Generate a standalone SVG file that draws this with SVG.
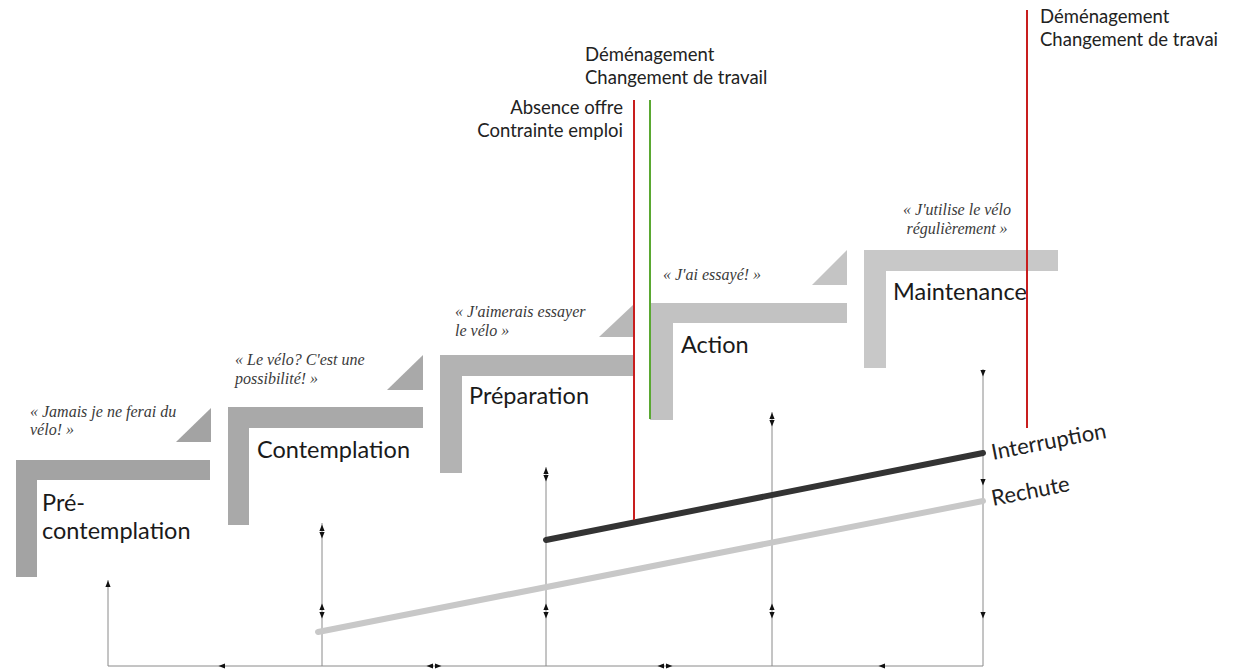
<svg xmlns="http://www.w3.org/2000/svg" width="1243" height="670" viewBox="0 0 1243 670">
<style>
.lbl{font-family:Lato,"Open Sans",sans-serif;fill:#1a1a1a;font-size:23.5px}
.ev{font-family:Lato,"Open Sans",sans-serif;fill:#222;font-size:18.5px}
.tag{font-family:Lato,"Open Sans",sans-serif;fill:#222;font-size:22px}
.q{font-family:"Liberation Serif",serif;font-style:italic;fill:#3a3a3a;font-size:16px}
.axis{stroke:#8a8a8a;stroke-width:1;fill:none}
.arr{fill:#111}
</style>
<defs>
<path id="au" d="M0,-3.5 L2.6,3 L-2.6,3Z"/>
<path id="ad" d="M0,3.5 L2.6,-3 L-2.6,-3Z"/>
<path id="al" d="M-3.5,0 L3,-2.6 L3,2.6Z"/>
<path id="ar" d="M3.5,0 L-3,-2.6 L-3,2.6Z"/>
</defs>

<g id="step-precontemplation">
<path d="M16,460 H210 V480 H37 V577 H16Z" fill="#a3a3a3"/>
<path d="M176,442 L211,408 L211,442Z" fill="#a3a3a3"/>
<text class="lbl" x="42" y="511">Pré-</text>
<text class="lbl" x="42" y="539">contemplation</text>
<text class="q" x="30" y="417">« Jamais je ne ferai du</text>
<text class="q" x="30" y="435">vélo! »</text>
</g>

<g id="step-contemplation">
<path d="M228,407 H423 V428 H249 V525 H228Z" fill="#a9a9a9"/>
<path d="M387,390 L423,355 L423,390Z" fill="#a9a9a9"/>
<text class="lbl" x="257" y="458">Contemplation</text>
<text class="q" x="235" y="365">« Le vélo? C'est une</text>
<text class="q" x="235" y="384">possibilité! »</text>
</g>

<g id="step-preparation">
<path d="M440,355 H633 V376 H462 V473 H440Z" fill="#b3b3b3"/>
<path d="M599,337 L633,305 L633,337Z" fill="#b8b8b8"/>
<text class="lbl" x="469" y="404">Préparation</text>
<text class="q" x="455" y="317">« J'aimerais essayer</text>
<text class="q" x="455" y="336">le vélo »</text>
</g>

<g id="step-action">
<path d="M650,303 H847 V323 H673 V420 H650Z" fill="#c2c2c2"/>
<path d="M812,285 L847,250 L847,285Z" fill="#c4c4c4"/>
<text class="lbl" x="681" y="353">Action</text>
<text class="q" x="663" y="280">« J'ai essayé!  »</text>
</g>

<g id="step-maintenance">
<path d="M864,250 H1058 V271 H886 V368 H864Z" fill="#c8c8c8"/>
<text class="lbl" x="893" y="300">Maintenance</text>
<text class="q" x="957" y="215" text-anchor="middle">« J'utilise le vélo</text>
<text class="q" x="957" y="234" text-anchor="middle">régulièrement »</text>
</g>

<g id="axes">
<line class="axis" x1="108" y1="666" x2="983" y2="666"/>
<line class="axis" x1="108" y1="580" x2="108" y2="666"/>
<line class="axis" x1="322" y1="523" x2="322" y2="666"/>
<line class="axis" x1="546" y1="467" x2="546" y2="666"/>
<line class="axis" x1="772" y1="412" x2="772" y2="666"/>
<line class="axis" x1="983" y1="369" x2="983" y2="666"/>
<g class="arr">
<use href="#au" x="108" y="584"/>
<use href="#au" x="322" y="528"/><use href="#ad" x="322" y="535"/>
<use href="#au" x="322" y="607"/><use href="#ad" x="322" y="615"/>
<use href="#au" x="546" y="471"/><use href="#ad" x="546" y="478"/>
<use href="#au" x="546" y="607"/><use href="#ad" x="546" y="615"/>
<use href="#au" x="772" y="416"/><use href="#ad" x="772" y="423"/>
<use href="#au" x="772" y="607"/><use href="#ad" x="772" y="615"/>
<use href="#ad" x="983" y="373"/>
<use href="#ad" x="983" y="482"/>
<use href="#ad" x="983" y="615"/>
<use href="#al" x="222" y="666"/>
<use href="#al" x="430" y="666"/><use href="#ar" x="438" y="666"/>
<use href="#al" x="661" y="666"/><use href="#ar" x="669" y="666"/>
<use href="#al" x="882" y="666"/>
</g>
</g>

<g id="connectors">
<line x1="318" y1="632" x2="983" y2="501" stroke="#c8c8c8" stroke-width="6" stroke-linecap="round"/>
<line x1="546" y1="540" x2="983" y2="453" stroke="#333" stroke-width="6" stroke-linecap="round"/>
<line x1="634" y1="100" x2="634" y2="520" stroke="#c81e1e" stroke-width="2"/>
<line x1="650" y1="100" x2="650" y2="419" stroke="#5aa832" stroke-width="2"/>
<line x1="1027" y1="10" x2="1027" y2="428" stroke="#c81e1e" stroke-width="2"/>
</g>

<g id="labels">
<text class="ev" x="585" y="61">Déménagement</text>
<text class="ev" x="585" y="84">Changement de travail</text>
<text class="ev" x="623" y="114" text-anchor="end">Absence offre</text>
<text class="ev" x="623" y="137" text-anchor="end">Contrainte emploi</text>
<text class="ev" x="1040" y="23">Déménagement</text>
<text class="ev" x="1040" y="46">Changement de travai</text>
<text class="tag" x="993" y="460" transform="rotate(-11 993 460)">Interruption</text>
<text class="tag" x="993" y="506" transform="rotate(-11 993 506)">Rechute</text>
</g>
</svg>
